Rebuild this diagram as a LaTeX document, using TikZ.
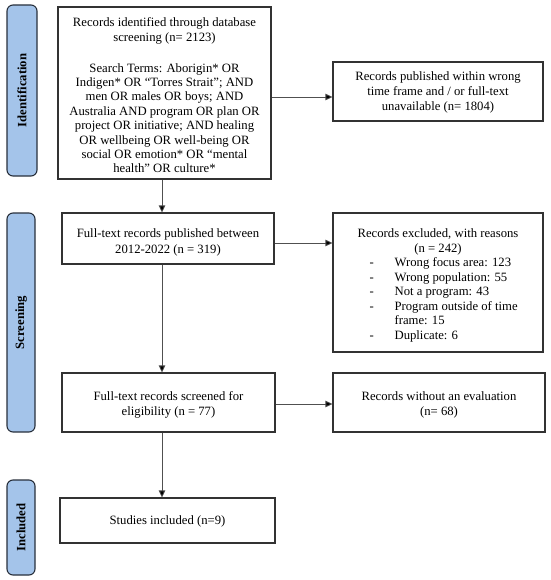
\documentclass[tikz,border=0pt]{standalone}
\usepackage{fontspec}
\setmainfont{Liberation Serif}
\usetikzlibrary{arrows.meta}
\definecolor{sidefill}{RGB}{164,196,234}
\definecolor{sidedraw}{RGB}{40,48,60}
\definecolor{boxdraw}{RGB}{50,50,50}
\definecolor{arrcol}{RGB}{80,80,80}
\newcommand{\lowerby}[2]{\raisebox{-#1}[\height][\depth]{#2}}
\tikzset{
  box/.style={draw=boxdraw, line width=1.1pt, inner sep=0pt, align=center,
    font=\fontsize{12.7}{14.4}\selectfont},
  wide/.style={font=\fontsize{12.7}{15.7}\selectfont},
  side/.style={draw=sidedraw, fill=sidefill, line width=1.1pt, rounded corners=6pt,
    inner sep=0pt},
  sidetext/.style={rotate=90, font=\fontsize{12.7}{14}\selectfont\bfseries},
  arr/.style={draw=arrcol, line width=0.8pt, -{Triangle[length=7pt,width=6.5pt,fill=black]}}
}
\begin{document}
\begin{tikzpicture}[x=1pt,y=-1pt]
\useasboundingbox (0,0) rectangle (550,580);
% side labels
\node[side, minimum width=30, minimum height=171] (sid) at (22,90.5) {};
\node[sidetext] (sidt) at (sid.center) {Identification};
\node[side, minimum width=28, minimum height=219] (ssc) at (21,322.5) {};
\node[sidetext] (ssct) at (ssc.center) {Screening};
\node[side, minimum width=28, minimum height=95] (sin) at (21,527.5) {};
\node[sidetext] (sint) at (sin.center) {Included};
% boxes
\node[box, minimum width=213, minimum height=172] (b1) at (164.5,93)
  {\lowerby{4pt}{\begin{tabular}{@{}c@{}}Records identified through database\\ screening (n= 2123)\\[16.6pt]
   Search Terms: Aborigin* OR\\ Indigen* OR ``Torres Strait''; AND\\ men OR males OR boys; AND\\
   Australia AND program OR plan OR\\ project OR initiative; AND healing\\ OR wellbeing OR well-being OR\\
   social OR emotion* OR ``mental\\ health'' OR culture*\end{tabular}}};
\node[box, minimum width=210, minimum height=59] (b2) at (438,91.5)
  {\lowerby{1pt}{\fontsize{12.7}{15}\selectfont\begin{tabular}{@{}c@{}}Records published within wrong\\ time frame and / or full-text\\ unavailable (n= 1804)\end{tabular}}};
\node[box, wide, minimum width=212, minimum height=51] (b3) at (168,238.5)
  {\lowerby{4pt}{\begin{tabular}{@{}c@{}}Full-text records published between\\ 2012-2022 (n = 319)\end{tabular}}};
\node[box, minimum width=210, minimum height=139] (b4) at (438,282.5)
  {\lowerby{3pt}{\fontsize{12.7}{14.5}\selectfont\begin{tabular}{@{}p{12pt}@{}p{25pt}@{}l@{}}
   \multicolumn{3}{@{}c@{}}{Records excluded, with reasons}\\
   \multicolumn{3}{@{}c@{}}{(n = 242)}\\
   & - & Wrong focus area: 123\\
   & - & Wrong population: 55\\
   & - & Not a program: 43\\
   & - & Program outside of time\\
   &   & frame: 15\\
   & - & Duplicate: 6
   \end{tabular}}};
\node[box, wide, minimum width=213, minimum height=59] (b5) at (168.5,402.5)
  {\lowerby{2.5pt}{\begin{tabular}{@{}c@{}}Full-text records screened for\\ eligibility (n = 77)\end{tabular}}};
\node[box, wide, minimum width=212, minimum height=59] (b6) at (439,402.5)
  {\lowerby{2.5pt}{\begin{tabular}{@{}c@{}}Records without an evaluation\\ (n= 68)\end{tabular}}};
\node[box, minimum width=215, minimum height=45] (b7) at (167.5,520.5)
  {\lowerby{1pt}{Studies included (n=9)}};
% connector guides
\coordinate (vx) at (162,0);
\coordinate (h1) at (0,97);
\coordinate (h2) at (0,243);
\coordinate (h3) at (0,404);
% arrows
\draw[arr] (b1.south -| vx) -- (b3.north -| vx);
\draw[arr] (b3.south -| vx) -- (b5.north -| vx);
\draw[arr] (b5.south -| vx) -- (b7.north -| vx);
\draw[arr] (b1.east |- h1) -- (b2.west |- h1);
\draw[arr] (b3.east |- h2) -- (b4.west |- h2);
\draw[arr] (b5.east |- h3) -- (b6.west |- h3);
\end{tikzpicture}
\end{document}
